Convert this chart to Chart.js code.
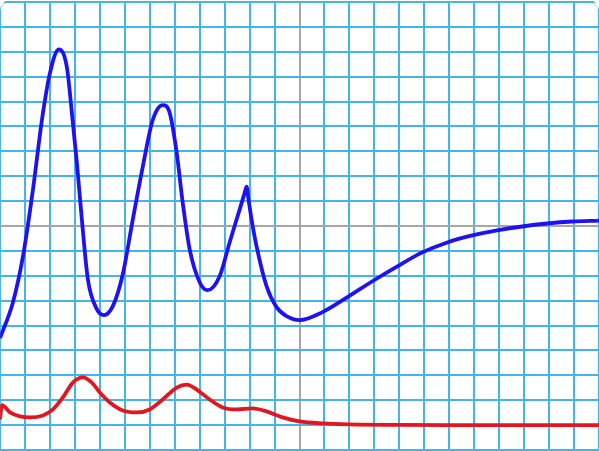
<!DOCTYPE html>
<html>
<head>
<meta charset="utf-8">
<script src="https://cdn.jsdelivr.net/npm/chart.js@4/dist/chart.umd.min.js"></script>
<style>
  html, body { margin: 0; padding: 0; background: #ffffff; }
  #wrap { position: relative; width: 599px; height: 451px; overflow: hidden; border-radius: 10px 10px 0 0; }
  #wrap::after { content: ''; position: absolute; left: 0; top: 1px; right: 1px; height: 460px; border-radius: 10px; box-shadow: inset 0 1px 2px rgba(120,170,200,0.6); pointer-events: none; }
</style>
</head>
<body>
<div id="wrap"><canvas id="c"></canvas></div>
<script>
// Blue series (x, y in grid units)
const blueX = [-12, -11.48, -11.08, -10.68, -10.32, -10.0, -9.64, -9.32, -9.12, -8.92, -8.72, -8.48, -8.12, -7.84, -7.48, -7.08, -6.68, -6.28, -5.88, -5.48, -5.2, -4.92, -4.68, -4.4, -4.0, -3.68, -3.2, -2.8, -2.4, -2.2, -2.12, -2.04, -1.92, -1.72, -1.32, -0.92, -0.52, 0, 0.92, 1.92, 2.92, 3.92, 4.92, 5.92, 6.92, 7.92, 8.92, 9.92, 10.92, 12];
const blueY = [-4.5, -3.06, -1.22, 1.46, 4.26, 6.14, 7.1, 6.38, 4.54, 2.54, 0.26, -2.14, -3.34, -3.58, -3.22, -1.94, 0.26, 2.38, 4.26, 4.86, 4.54, 2.94, 0.94, -0.94, -2.26, -2.58, -2.02, -0.66, 0.66, 1.32, 1.58, 1.05, 0.26, -0.82, -2.42, -3.26, -3.62, -3.78, -3.46, -2.86, -2.22, -1.62, -1.06, -0.66, -0.38, -0.18, -0.02, 0.1, 0.18, 0.22];

// Red series
const redX = [-12, -11.92, -11.6, -11.2, -10.8, -10.28, -9.88, -9.48, -9.08, -8.68, -8.32, -8.0, -7.6, -7.08, -6.52, -6.0, -5.48, -4.92, -4.52, -4.12, -3.6, -3.08, -2.52, -1.88, -1.32, -0.68, 0, 0.92, 2, 4, 6, 8, 10, 12];
const redY = [-7.77, -7.2, -7.49, -7.65, -7.69, -7.61, -7.37, -6.89, -6.29, -6.08, -6.29, -6.69, -7.09, -7.41, -7.49, -7.37, -6.97, -6.49, -6.37, -6.57, -6.97, -7.29, -7.37, -7.33, -7.45, -7.69, -7.85, -7.93, -7.97, -7.99, -8.0, -8.0, -8.0, -8.0];

// Axis ranges
const xRange = [-12, 12];
const yRange = [-9, 9];

const toPts = (xs, ys) => xs.map((x, i) => ({ x: x, y: ys[i] }));

const gridColor = (ctx) => (ctx.tick && ctx.tick.value === 0) ? '#a6a6a6' : '#45b4e8';

new Chart(document.getElementById('c'), {
  type: 'line',
  data: {
    datasets: [
      { data: toPts(blueX, blueY), borderColor: '#1f12f2', borderWidth: 3.8, pointRadius: 0, cubicInterpolationMode: 'monotone', fill: false },
      { data: toPts(redX, redY), borderColor: '#e3161f', borderWidth: 3.8, pointRadius: 0, cubicInterpolationMode: 'monotone', fill: false }
    ]
  },
  options: {
    responsive: true,
    maintainAspectRatio: false,
    animation: false,
    layout: { padding: { top: 2, left: 0, right: 0, bottom: 1 } },
    plugins: { legend: { display: false }, tooltip: { enabled: false } },
    scales: {
      x: {
        type: 'linear', min: xRange[0], max: xRange[1],
        ticks: { display: false, stepSize: 1 },
        grid: { color: gridColor, lineWidth: 2, drawTicks: false },
        border: { display: false }
      },
      y: {
        type: 'linear', min: yRange[0], max: yRange[1],
        ticks: { display: false, stepSize: 1 },
        grid: { color: gridColor, lineWidth: 2, drawTicks: false },
        border: { display: false }
      }
    }
  }
});
</script>
</body>
</html>
